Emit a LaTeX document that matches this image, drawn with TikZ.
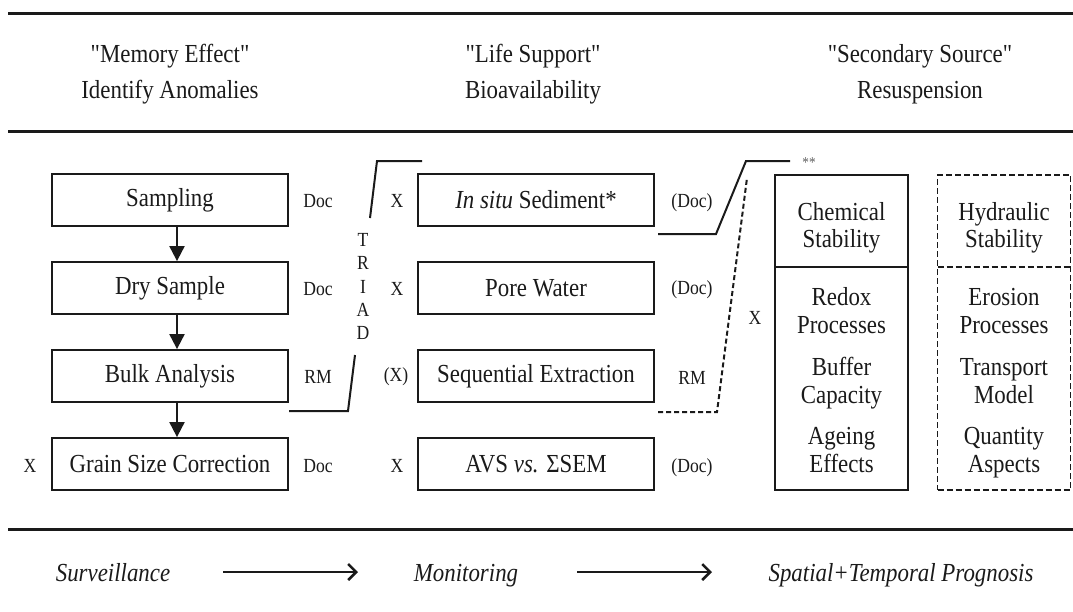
\documentclass[tikz,border=0pt]{standalone}
\usepackage{fontspec}
\setmainfont[FakeStretch=0.88]{Liberation Serif}
\newfontfamily\qfont[FakeStretch=0.88,Ligatures=TeXOff]{Liberation Serif}
\usetikzlibrary{arrows.meta,calc}
\definecolor{ink}{HTML}{1A1A1A}
\newcommand\mainsz{\fontsize{26}{28}\selectfont}
\newcommand\labsz{\fontsize{20}{22}\selectfont}
\newcommand\dq{{\qfont"}}
\begin{document}
\begin{tikzpicture}[x=1pt,y=-1pt,
  box/.style={draw=ink, line width=1.8pt, minimum width=236pt, minimum height=52pt, inner sep=0pt, font=\mainsz, text=ink},
  lab/.style={font=\labsz, text=ink, inner sep=0pt},
  big/.style={font=\mainsz, text=ink, inner sep=0pt},
  rule/.style={draw=ink, line width=3pt},
  flow/.style={draw=ink, line width=2pt, -{Triangle[length=15pt,width=15pt]}},
  brk/.style={draw=ink, line width=2pt},
  dbrk/.style={draw=ink, line width=2pt, dash pattern=on 5pt off 3pt},
  sbox/.style={draw=ink, line width=1.8pt, minimum width=133pt, minimum height=315pt, inner sep=0pt},
  dsbox/.style={sbox, dash pattern=on 6pt off 3pt},
  prog/.style={draw=ink, line width=2.5pt, -{Straight Barb[length=8pt,width=16pt,line width=2.5pt]}}
]
\useasboundingbox (0,0) rectangle (1073,611);

% rules
\coordinate (r1a) at (8,13);   \coordinate (r1b) at (1073,13);
\coordinate (r2a) at (8,131);  \coordinate (r2b) at (1073,131);
\coordinate (r3a) at (8,529);  \coordinate (r3b) at (1073,529);
\draw[rule] (r1a) -- (r1b);
\draw[rule] (r2a) -- (r2b);
\draw[rule] (r3a) -- (r3b);

% headers
\node[big, anchor=base] (h1a) at (170,62) {\dq Memory Effect\dq};
\node[big, anchor=base] (h1b) at (170,98) {Identify Anomalies};
\node[big, anchor=base] (h2a) at (533,62) {\dq Life Support\dq};
\node[big, anchor=base] (h2b) at (533,98) {Bioavailability};
\node[big, anchor=base] (h3a) at (920,62) {\dq Secondary Source\dq};
\node[big, anchor=base] (h3b) at (920,98) {Resuspension};

% left column
\node[box] (s1) at (170,200) {Sampling};
\node[box] (s2) at (170,288) {Dry Sample};
\node[box] (s3) at (170,376) {Bulk Analysis};
\node[box] (s4) at (170,464) {Grain Size Correction};
\draw[flow] ([xshift=7pt]s1.south) -- ([xshift=7pt]s2.north);
\draw[flow] ([xshift=7pt]s2.south) -- ([xshift=7pt]s3.north);
\draw[flow] ([xshift=7pt]s3.south) -- ([xshift=7pt]s4.north);
\node[lab] (ld1) at (318,201) {Doc};
\node[lab] (ld2) at (318,289) {Doc};
\node[lab] (ld3) at (318,377) {RM};
\node[lab] (ld4) at (318,466) {Doc};
\node[lab] (lx4) at (30,466) {X};

% TRIAD
\node[lab] (t1) at (363,240) {T};
\node[lab] (t2) at (363,263) {R};
\node[lab] (t3) at (363,287) {I};
\node[lab] (t4) at (363,310) {A};
\node[lab] (t5) at (363,333) {D};
\coordinate (ta1) at (422,161); \coordinate (ta2) at (377,161); \coordinate (ta3) at (370,218);
\coordinate (tb1) at (355,355); \coordinate (tb2) at (348,411); \coordinate (tb3) at (289,411);
\draw[brk] (ta1) -- (ta2) -- (ta3);
\draw[brk] (tb1) -- (tb2) -- (tb3);

% middle column
\node[box] (m1) at (536,200) {\textit{In situ} Sediment*};
\node[box] (m2) at (536,288) {Pore Water};
\node[box] (m3) at (536,376) {Sequential Extraction};
\node[box] (m4) at (536,464) {AVS \textit{vs.} ΣSEM};
\node[lab] (mx1) at (397,201) {X};
\node[lab] (mx2) at (397,289) {X};
\node[lab] (mx3) at (396,377) {(X)};
\node[lab] (mx4) at (397,466) {X};
\node[lab] (md1) at (692,203) {(Doc)};
\node[lab] (md2) at (692,290) {(Doc)};
\node[lab] (md3) at (692,378) {RM};
\node[lab] (md4) at (692,468) {(Doc)};

% right brackets
\coordinate (ra1) at (658,234); \coordinate (ra2) at (716,234);
\coordinate (ra3) at (746,161); \coordinate (ra4) at (790,161);
\draw[brk] (ra1) -- (ra2) -- (ra3) -- (ra4);
\node[font=\fontsize{15}{15}\selectfont, text=ink!70, inner sep=0pt] (stars) at (809,163) {**};
\coordinate (rb1) at (658,412); \coordinate (rb2) at (717,412); \coordinate (rb3) at (747,178);
\draw[dbrk] (rb1) -- (rb2) -- (rb3);
\node[lab] (rx) at (755,318) {X};

% right boxes
\node[sbox] (chem) at (841.5,332.5) {};
\node[dsbox] (hyd) at (1004,332.5) {};
\coordinate (cd1) at (775,267); \coordinate (cd2) at (908,267);
\coordinate (hd1) at (937.5,267); \coordinate (hd2) at (1070.5,267);
\draw[draw=ink, line width=1.8pt] (cd1) -- (cd2);
\draw[draw=ink, line width=1.8pt, dash pattern=on 6pt off 3pt] (hd1) -- (hd2);

\node[big, anchor=base] (c1) at (841.5,220) {Chemical};
\node[big, anchor=base] (c2) at (841.5,247) {Stability};
\node[big, anchor=base] (c3) at (841.5,305) {Redox};
\node[big, anchor=base] (c4) at (841.5,333) {Processes};
\node[big, anchor=base] (c5) at (841.5,375) {Buffer};
\node[big, anchor=base] (c6) at (841.5,403) {Capacity};
\node[big, anchor=base] (c7) at (841.5,444) {Ageing};
\node[big, anchor=base] (c8) at (841.5,472) {Effects};

\node[big, anchor=base] (d1) at (1004,220) {Hydraulic};
\node[big, anchor=base] (d2) at (1004,247) {Stability};
\node[big, anchor=base] (d3) at (1004,305) {Erosion};
\node[big, anchor=base] (d4) at (1004,333) {Processes};
\node[big, anchor=base] (d5) at (1004,375) {Transport};
\node[big, anchor=base] (d6) at (1004,403) {Model};
\node[big, anchor=base] (d7) at (1004,444) {Quantity};
\node[big, anchor=base] (d8) at (1004,472) {Aspects};

% bottom progression
\node[big, anchor=base] (p1) at (113,581) {\itshape Surveillance};
\node[big, anchor=base] (p2) at (466,581) {\itshape Monitoring};
\node[big, anchor=base] (p3) at (901,581) {\itshape Spatial+Temporal Prognosis};
\coordinate (pa1) at (223,572); \coordinate (pa2) at (358,572);
\coordinate (pb1) at (577,572); \coordinate (pb2) at (712,572);
\draw[prog] (pa1) -- (pa2);
\draw[prog] (pb1) -- (pb2);
\end{tikzpicture}
\end{document}
